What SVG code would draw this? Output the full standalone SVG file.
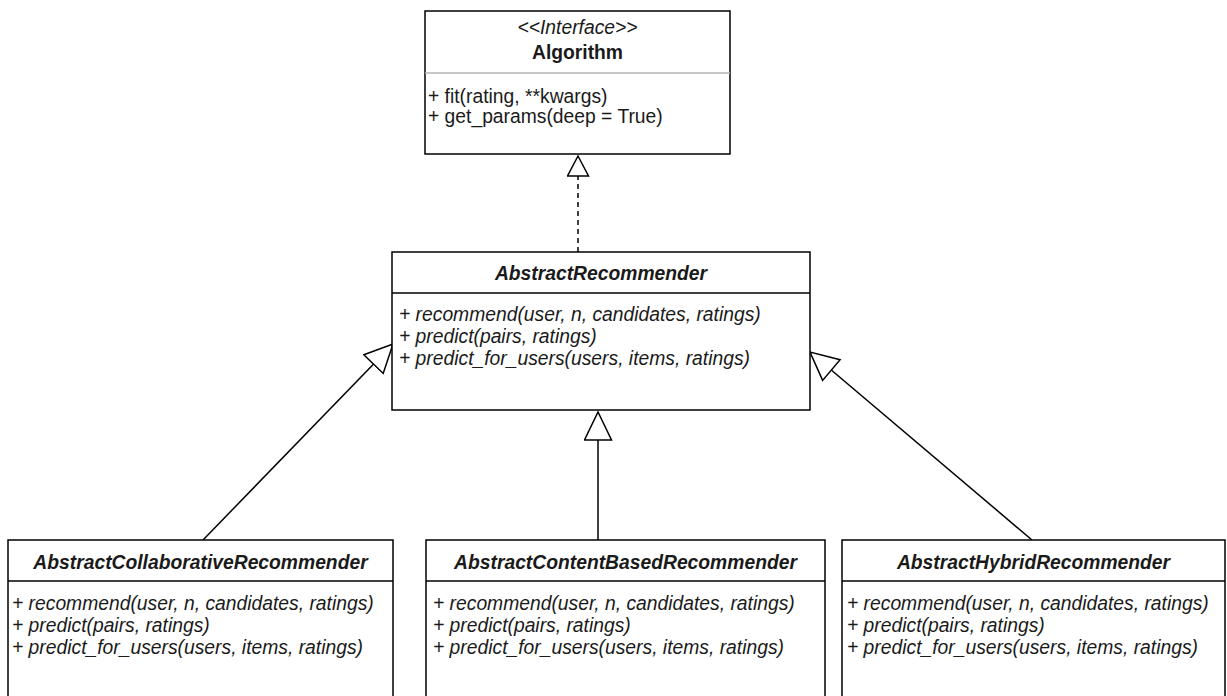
<svg xmlns="http://www.w3.org/2000/svg" width="1227" height="696" viewBox="0 0 1227 696">
<style>
.box{fill:#fff;stroke:#000;stroke-width:1.5}
.sep{stroke:#000;stroke-width:1.5}
.sepg{stroke:#b3b3b3;stroke-width:1.5}
text{font-family:"Liberation Sans",Arial,sans-serif;font-size:19.3px;fill:#1a1a1a}
.t{font-weight:bold;text-anchor:middle}
.ti{font-weight:bold;font-style:italic;text-anchor:middle}
.st{font-style:italic;text-anchor:middle}
.m{font-style:italic}
.c{fill:none;stroke:#000;stroke-width:1.5}
</style>
<defs>
<marker id="big" markerUnits="userSpaceOnUse" markerWidth="32" markerHeight="31" refX="29" refY="14.5" orient="auto" viewBox="0 0 32 31">
<path d="M1,1 L29,14.5 L1,28 Z" fill="#fff" stroke="#000" stroke-width="1.5"/>
</marker>
<marker id="small" markerUnits="userSpaceOnUse" markerWidth="24" markerHeight="25" refX="21" refY="11.5" orient="auto" viewBox="0 0 24 25">
<path d="M1,1 L21,11.5 L1,22 Z" fill="#fff" stroke="#000" stroke-width="1.5"/>
</marker>
</defs>
<g id="connectors">
<path class="c" d="M578,252 L578,156" stroke-dasharray="5 4" marker-end="url(#small)"/>
<path class="c" d="M203,540 L393,344" marker-end="url(#big)"/>
<path class="c" d="M598,540 L598,412" marker-end="url(#big)"/>
<path class="c" d="M1032,540 L810,352" marker-end="url(#big)"/>
</g>
<g id="algorithm">
<rect class="box" x="425" y="11" width="305" height="143"/>
<line class="sepg" x1="425" y1="73" x2="730" y2="73"/>
<text class="st" x="577.5" y="34">&lt;&lt;Interface&gt;&gt;</text>
<text class="t" x="577.5" y="59">Algorithm</text>
<text x="428" y="103">+ fit(rating, **kwargs)</text>
<text x="428" y="123">+ get_params(deep = True)</text>
</g>
<g id="abstract-recommender">
<rect class="box" x="392" y="252" width="418" height="158"/>
<line class="sep" x1="392" y1="293" x2="810" y2="293"/>
<text class="ti" x="601" y="280">AbstractRecommender</text>
<text class="m" x="399" y="321">+ recommend(user, n, candidates, ratings)</text>
<text class="m" x="399" y="343">+ predict(pairs, ratings)</text>
<text class="m" x="399" y="365">+ predict_for_users(users, items, ratings)</text>
</g>
<g id="collaborative">
<rect class="box" x="8" y="540" width="385" height="170"/>
<line class="sep" x1="8" y1="581" x2="393" y2="581"/>
<text class="ti" x="200.5" y="569">AbstractCollaborativeRecommender</text>
<text class="m" x="12" y="610">+ recommend(user, n, candidates, ratings)</text>
<text class="m" x="12" y="632">+ predict(pairs, ratings)</text>
<text class="m" x="12" y="654">+ predict_for_users(users, items, ratings)</text>
</g>
<g id="content-based">
<rect class="box" x="426" y="540" width="399" height="170"/>
<line class="sep" x1="426" y1="581" x2="825" y2="581"/>
<text class="ti" x="625.5" y="569">AbstractContentBasedRecommender</text>
<text class="m" x="433" y="610">+ recommend(user, n, candidates, ratings)</text>
<text class="m" x="433" y="632">+ predict(pairs, ratings)</text>
<text class="m" x="433" y="654">+ predict_for_users(users, items, ratings)</text>
</g>
<g id="hybrid">
<rect class="box" x="842" y="540" width="383" height="170"/>
<line class="sep" x1="842" y1="581" x2="1225" y2="581"/>
<text class="ti" x="1033.5" y="569">AbstractHybridRecommender</text>
<text class="m" x="847" y="610">+ recommend(user, n, candidates, ratings)</text>
<text class="m" x="847" y="632">+ predict(pairs, ratings)</text>
<text class="m" x="847" y="654">+ predict_for_users(users, items, ratings)</text>
</g>
</svg>
